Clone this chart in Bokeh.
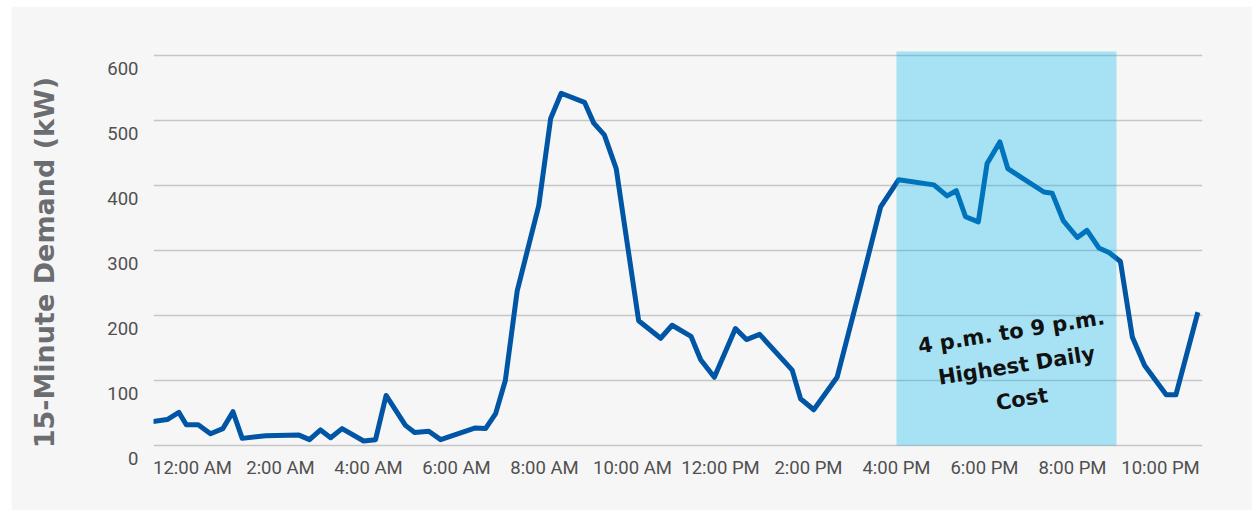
from bokeh.plotting import figure
from bokeh.models import Range1d, FixedTicker, Spacer, LinearAxis
from bokeh.layouts import row, column
from bokeh.core.properties import value
from bokeh.embed import file_html
from bokeh.resources import INLINE

# ---- data ----
hours = [-0.90, -0.575, -0.31, -0.14, 0.13, 0.41, 0.69, 0.92, 1.13, 1.66,
         2.42, 2.66, 2.91, 3.14, 3.40, 3.89, 4.16, 4.40, 4.84, 5.05,
         5.37, 5.64, 6.43, 6.66, 6.89, 7.11, 7.38, 7.87, 8.14, 8.38,
         8.91, 9.12, 9.36, 9.63, 10.14, 10.64, 10.90, 11.33, 11.55, 11.86,
         12.34, 12.59, 12.89, 13.63, 13.82, 14.12, 14.65, 15.12, 15.64, 16.05,
         16.85, 17.15, 17.36, 17.57, 17.86, 18.06, 18.35, 18.53, 19.35, 19.54,
         19.79, 20.11, 20.33, 20.60, 20.83, 21.09, 21.36, 21.64, 22.13, 22.35,
         22.85]
demand_kw = [37, 40, 51, 32, 32, 18, 26, 52, 11, 15,
             16, 9, 24, 12, 26, 7, 9, 77, 31, 20,
             22, 9, 27, 26, 49, 100, 238, 369, 503, 542,
             528, 496, 478, 426, 192, 165, 185, 168, 132, 105,
             180, 163, 171, 116, 72, 55, 105, 228, 367, 409,
             401, 384, 392, 352, 344, 434, 467, 426, 390, 388,
             346, 320, 331, 304, 297, 283, 167, 123, 78, 78,
             205]

x_tick_hours = [0, 2, 4, 6, 8, 10, 12, 14, 16, 18, 20, 22]
x_tick_labels = ["12:00 AM", "2:00 AM", "4:00 AM", "6:00 AM", "8:00 AM", "10:00 AM",
                 "12:00 PM", "2:00 PM", "4:00 PM", "6:00 PM", "8:00 PM", "10:00 PM"]
y_ticks = [0, 100, 200, 300, 400, 500, 600]
y_tick_labels = ["0", "100", "200", "300", "400", "500", "600"]

peak_start = [16]
peak_end = [21]
peak_bottom = [0]
peak_top = [606]

note_x = [18.73]
note_y = [123]
note_text = ["4 p.m. to 9 p.m.\nHighest Daily\nCost"]

y_title = "15-Minute Demand (kW)"
Y0, Y1 = -4.6, 610.8

# ---- figure ----
p = figure(width=1241, height=504, output_backend="svg", toolbar_location=None,
           title=None,
           x_range=Range1d(-0.886, 22.955), y_range=Range1d(Y0, Y1),
           min_border_left=142, min_border_right=50,
           min_border_top=42, min_border_bottom=62)

p.background_fill_color = "#f6f6f6"
p.border_fill_color = "#f6f6f6"
p.outline_line_color = None

p.xgrid.visible = False
p.ygrid.ticker = FixedTicker(ticks=y_ticks)
p.ygrid.grid_line_color = "#c6c6c6"
p.ygrid.grid_line_width = 1.6

for ax in (p.xaxis[0], p.yaxis[0]):
    ax.axis_line_color = None
    ax.major_tick_line_color = None
    ax.minor_tick_line_color = None
    ax.major_label_text_font = "Roboto"
    ax.major_label_text_font_size = "18.5px"
    ax.major_label_text_color = "#505050"

yax = p.yaxis[0]
yax.ticker = FixedTicker(ticks=y_ticks)
yax.major_label_standoff = 9
# the reference prints the y labels a little below their grid lines
yax.major_label_overrides = {t: "\n" + lab for t, lab in zip(y_ticks, y_tick_labels)}

# axis title on its own tick-less axis; trailing no-break spaces nudge it
# down so that it ends level with the zero line, as in the reference
title_axis = LinearAxis(ticker=FixedTicker(ticks=[]),
                        axis_line_color=None, major_tick_line_color=None,
                        minor_tick_line_color=None, major_label_standoff=0,
                        major_tick_out=0, minor_tick_out=0,
                        axis_label=y_title + "\u00a0\u00a0\u00a0",
                        axis_label_standoff=45,
                        axis_label_text_font="DejaVu Sans",
                        axis_label_text_font_size="27px",
                        axis_label_text_font_style="bold",
                        axis_label_text_color="#6b6d70")
p.add_layout(title_axis, "left")

p.xaxis.ticker = FixedTicker(ticks=x_tick_hours)
p.xaxis.major_label_overrides = {h: lab for h, lab in zip(x_tick_hours, x_tick_labels)}
p.xaxis.major_label_standoff = 2

p.line(hours, demand_kw, line_color="#0055a5", line_width=5, line_join="round")

p.quad(left=peak_start, right=peak_end, bottom=peak_bottom, top=peak_top,
       fill_color="#00b4f0", fill_alpha=0.32, line_color=None)

p.text(x=note_x, y=note_y, text=note_text, angle=0.157,
       text_font=value("DejaVu Sans"), text_font_style="bold",
       text_font_size="21px", text_align="center", text_baseline="middle",
       text_line_height=1.42, text_color="#111111")

layout = row(Spacer(width=11, height=510),
             column(Spacer(width=1241, height=6), p))

open("out.html", "w").write(file_html(layout, INLINE))
